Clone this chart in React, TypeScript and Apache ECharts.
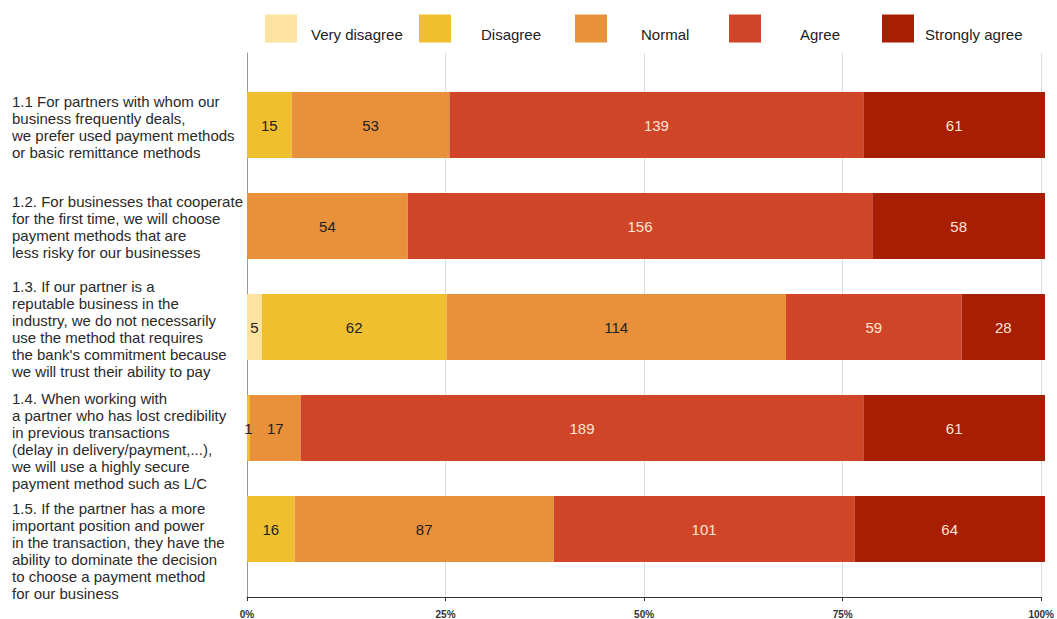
import React, { useEffect, useRef } from "react";
import * as echarts from "echarts";

// Statements (y-axis categories), top to bottom
const categories = [
  "1.1 For partners with whom our\nbusiness frequently deals,\nwe prefer used payment methods\nor basic remittance methods",
  "1.2. For businesses that cooperate\nfor the first time, we will choose\npayment methods that are\nless risky for our businesses",
  "1.3. If our partner is a\nreputable business in the\nindustry, we do not necessarily\nuse the method that requires\nthe bank's commitment because\nwe will trust their ability to pay",
  "1.4. When working with\na partner who has lost credibility\nin previous transactions\n(delay in delivery/payment,...),\nwe will use a highly secure\npayment method such as L/C",
  "1.5. If the partner has a more\nimportant position and power\nin the transaction, they have the\nability to dominate the decision\nto choose a payment method\nfor our business",
];

// Response levels
const levels = ["Very disagree", "Disagree", "Normal", "Agree", "Strongly agree"];

// Respondent counts per level, one entry per statement
const veryDisagree = [0, 0, 5, 0, 0];
const disagree = [15, 0, 62, 1, 16];
const normal = [53, 54, 114, 17, 87];
const agree = [139, 156, 59, 189, 101];
const stronglyAgree = [61, 58, 28, 61, 64];

// Percent axis ticks
const percentTicks = [0, 25, 50, 75, 100];

const colors = ["#fde2a0", "#f0bf30", "#e8913a", "#d04428", "#a81e02"];
const labelColors = ["#222222", "#222222", "#222222", "#fde4d6", "#fde4d6"];

// legend item placement: icon left edge and gap between icon and text
const legendLeft = [265, 419, 575, 729, 882];
const legendTextPad = [9, 25, 29, 34, 6];

// downward shift of each category label block (px)
const labelShift = [2, 1, 2, 13, 22];

const FONT = "'Liberation Sans', Arial, sans-serif";
const LABEL_COLOR = "#2a2a2a";

export default function App() {
  const ref = useRef<HTMLDivElement>(null);

  useEffect(() => {
    if (!ref.current) return;
    const chart = echarts.init(ref.current, undefined, { renderer: "svg" });

    const counts = [veryDisagree, disagree, normal, agree, stronglyAgree];
    const totals = categories.map((_, i) => counts.reduce((s, arr) => s + arr[i], 0));

    const series = levels.map((name, k) => ({
      name,
      type: "bar",
      stack: "total",
      xAxisIndex: 1,
      yAxisIndex: 1,
      barWidth: 66,
      itemStyle: { color: colors[k] },
      label: {
        show: true,
        position: "inside",
        color: labelColors[k],
        fontFamily: FONT,
        fontSize: 15,
        formatter: (p: any) => {
          const c = counts[k][p.dataIndex];
          return c > 0 ? String(c) : "";
        },
      },
      data: counts[k].map((c, i) => (c / totals[i]) * 100),
    }));

    const legendText = { fontFamily: FONT, fontSize: 15, lineHeight: 17, color: "#222" };
    const legends = levels.map((name, k) => ({
      data: [name],
      left: legendLeft[k],
      top: 14,
      padding: 0,
      itemWidth: 32,
      itemHeight: 28,
      icon: "rect",
      selectedMode: false,
      // a short spacer line above the name drops the text a little below the swatch centre
      formatter: (n: string) => `{g| }\n{t|${n}}`,
      textStyle: {
        ...legendText,
        padding: [0, 0, 0, legendTextPad[k]],
        rich: {
          g: { fontSize: 2, lineHeight: 12 },
          t: { ...legendText },
        },
      },
    }));

    const lineStyle = { fontFamily: FONT, fontSize: 15, lineHeight: 17, color: LABEL_COLOR };
    const rich: Record<string, any> = { b: { ...lineStyle } };
    labelShift.forEach((s, i) => {
      rich["g" + i] = { fontSize: 1, lineHeight: 2 * s };
    });

    chart.setOption({
      animation: false,
      color: colors,
      textStyle: { fontFamily: FONT },
      legend: legends,
      grid: [
        // frame: axis lines, ticks and vertical grid lines
        { left: 247, width: 798, top: 53, height: 544 },
        // bars
        { left: 247, width: 798, top: 74.5, height: 505 },
      ],
      xAxis: [
        {
          gridIndex: 0,
          type: "value",
          min: percentTicks[0],
          max: percentTicks[percentTicks.length - 1],
          interval: 25,
          axisLine: { show: true, lineStyle: { color: "#333", width: 1 } },
          axisTick: { show: true, length: 4, lineStyle: { color: "#333" } },
          axisLabel: {
            formatter: "{value}%",
            fontSize: 10,
            fontWeight: "bold",
            color: "#333",
            fontFamily: FONT,
            margin: 12,
          },
          splitLine: { show: true, lineStyle: { color: "#dddddd", width: 1 } },
        },
        {
          gridIndex: 1,
          type: "value",
          min: 0,
          max: 100,
          show: false,
        },
      ],
      yAxis: [
        {
          gridIndex: 0,
          type: "value",
          min: 0,
          max: 1,
          axisLine: { show: true, lineStyle: { color: "#999", width: 1 } },
          axisTick: { show: false },
          axisLabel: { show: false },
          splitLine: { show: false },
        },
        {
          gridIndex: 1,
          type: "category",
          inverse: true,
          data: categories,
          axisLine: { show: false },
          axisTick: { show: false },
          splitLine: { show: false },
          axisLabel: {
            interval: 0,
            hideOverlap: false,
            align: "left",
            margin: 235,
            fontSize: 15,
            lineHeight: 17,
            color: LABEL_COLOR,
            fontFamily: FONT,
            // spacer line on top pushes each block down by labelShift[index]
            formatter: (value: string, index: number) =>
              `{g${index}| }\n` +
              value
                .split("\n")
                .map((line) => `{b|${line}}`)
                .join("\n"),
            rich,
          },
        },
      ],
      series,
    });

    return () => chart.dispose();
  }, []);

  return (
    <div
      ref={ref}
      style={{ position: "absolute", left: 0, top: 0, width: 1057, height: 619, background: "#fff" }}
    />
  );
}
